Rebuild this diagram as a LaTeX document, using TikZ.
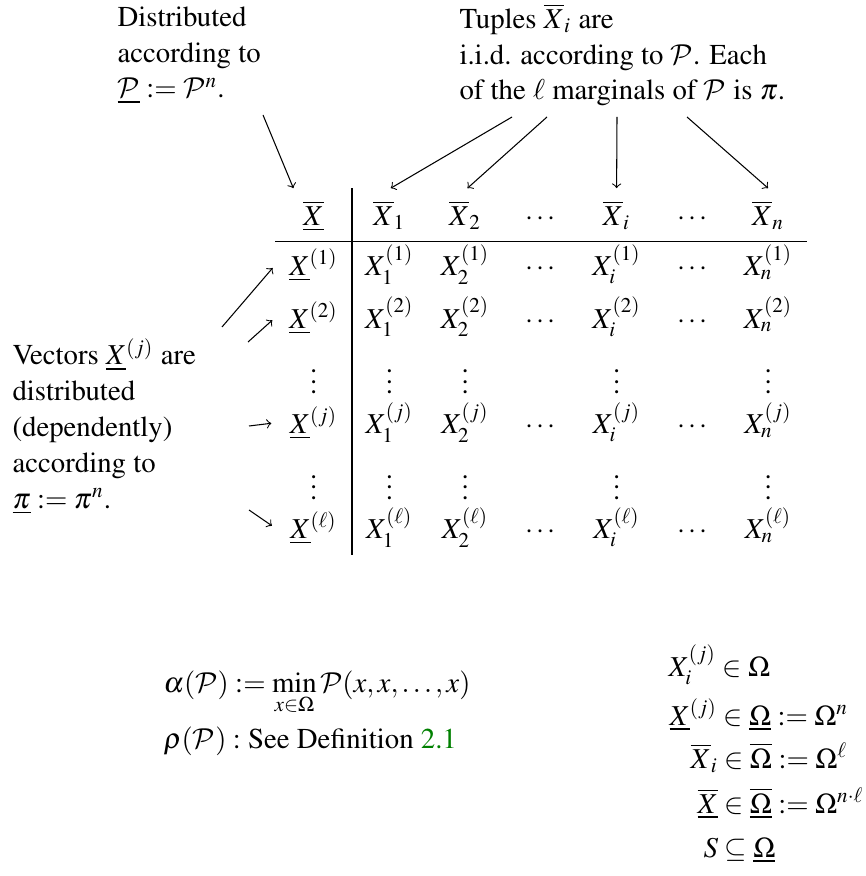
\documentclass[tikz,border=0pt,11pt]{standalone}
\usepackage{amsmath}
\usepackage[T1]{fontenc}
\usepackage{mathptmx}
\DeclareMathAlphabet{\mathcal}{OMS}{cmsy}{m}{n}
\usepackage{xcolor}
\usepackage{tikz}
\usetikzlibrary{matrix}
\definecolor{defgreen}{RGB}{0,128,0}
\newcommand{\lowdots}{\raisebox{-5pt}{$\vdots$}}
\tikzset{
  note/.style={align=left, inner sep=0pt, anchor=base west},
  cell/.style={inner sep=0pt, minimum width=28.8pt, text height=14pt, text depth=6pt},
  ptr/.style={->, line width=0.4pt},
  rowptr/.style={->, line width=0.4pt, shorten >=1.5pt},
  rule/.style={line width=0.4pt}
}

\begin{document}
\begin{tikzpicture}[x=0.3802pt, y=-0.3802pt]
  \useasboundingbox (0,0) rectangle (865,876);

  % Notes around the table (base = last line)
  \node[note] (distText) at (117,98) {Distributed\\ according to\\ $\underline{\mathcal{P}} := \mathcal{P}^n$.};
  \node[note] (tupText) at (459,100) {Tuples $\overline{X}_i$ are\\ i.i.d. according to $\mathcal{P}$. Each\\ of the $\ell$ marginals of $\mathcal{P}$ is $\pi$.};
  \node[note] (vecText) at (12,508) {Vectors $\underline{X}^{(j)}$ are\\ distributed\\ (dependently)\\ according to\\ $\underline{\pi} := \pi^n$.};

  % Table of samples
  \matrix (tab) [matrix of math nodes, inner sep=0pt, anchor=north west,
    column sep=0pt, row sep=0pt, nodes={cell}] at (275.2,188.2) {
    \underline{\overline{X}} & \overline{X}_1 & \overline{X}_2 & \cdots & \overline{X}_i & \cdots & \overline{X}_n \\[-1pt]
    \underline{X}^{(1)} & X_1^{(1)} & X_2^{(1)} & \cdots & X_i^{(1)} & \cdots & X_n^{(1)} \\
    \underline{X}^{(2)} & X_1^{(2)} & X_2^{(2)} & \cdots & X_i^{(2)} & \cdots & X_n^{(2)} \\
    \lowdots & \lowdots & \lowdots & & \lowdots & & \lowdots \\
    \underline{X}^{(j)} & X_1^{(j)} & X_2^{(j)} & \cdots & X_i^{(j)} & \cdots & X_n^{(j)} \\
    \lowdots & \lowdots & \lowdots & & \lowdots & & \lowdots \\
    \underline{X}^{(\ell)} & X_1^{(\ell)} & X_2^{(\ell)} & \cdots & X_i^{(\ell)} & \cdots & X_n^{(\ell)} \\
  };
  \draw[rule] (tab-1-1.south west) -- (tab-1-7.south east);
  \draw[rule] (tab-1-1.north east) -- (tab-7-1.south east);

  % Arrow tails
  \coordinate (d0) at (263,115);
  \coordinate (t1) at (512,117);
  \coordinate (t2) at (547,117);
  \coordinate (t3) at (617,117);
  \coordinate (t4) at (687,117);
  \coordinate (v1) at (222,327);
  \coordinate (v2) at (248,342);
  \coordinate (v3) at (249,426);
  \coordinate (v4) at (249,510);

  \draw[ptr] (d0) -- (tab-1-1.127);
  \draw[ptr] (t1) -- (tab-1-2.87);
  \draw[ptr] (t2) -- (tab-1-3.85);
  \draw[ptr] (t3) -- (tab-1-5.north);
  \draw[ptr] (t4) -- (tab-1-7.north);
  \draw[rowptr] (v1) -- (tab-2-1.west);
  \draw[rowptr] (v2) -- (tab-3-1.west);
  \draw[rowptr] (v3) -- (tab-5-1.west);
  \draw[rowptr] (v4) -- (tab-7-1.west);

  % Definitions below
  \node[note] (alphaDef) at (163,692) {$\displaystyle \alpha(\mathcal{P}) := \min_{x\in\Omega} \mathcal{P}(x,x,\dots,x)$};
  \node[note] (rhoDef) at (163,748) {$\rho(\mathcal{P}) :$ See Definition \textcolor{defgreen}{2.1}};

  \node[note] (om1) at (668,676) {$X_i^{(j)} \in \Omega$};
  \node[note] (om2) at (669,725) {$\underline{X}^{(j)} \in \underline{\Omega} := \Omega^n$};
  \node[note] (om3) at (690,768) {$\overline{X}_i \in \overline{\Omega} := \Omega^\ell$};
  \node[note] (om4) at (697,813) {$\underline{\overline{X}} \in \underline{\overline{\Omega}} := \Omega^{n\cdot\ell}$};
  \node[note] (om5) at (703,857) {$S \subseteq \underline{\Omega}$};
\end{tikzpicture}
\end{document}
